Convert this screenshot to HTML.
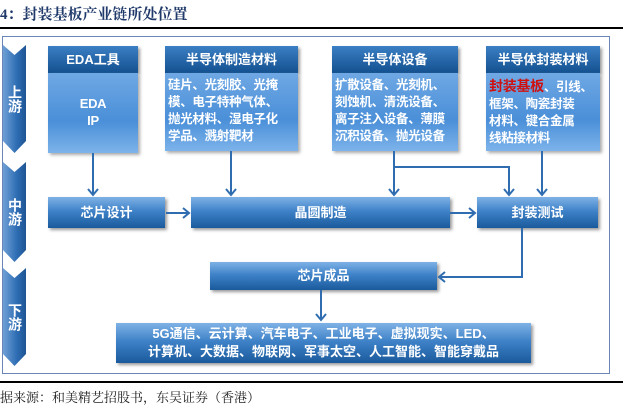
<!DOCTYPE html>
<html><head><meta charset="utf-8"><style>
*{margin:0;padding:0;box-sizing:border-box}
body{width:623px;height:403px;background:#fff;position:relative;overflow:hidden;font-family:"Liberation Sans","Noto Sans CJK SC",sans-serif}
.a{position:absolute}
.hd{position:absolute;background:linear-gradient(#3b7fc4,#13508f);color:#fff;font-weight:bold;font-size:13px;text-align:center;line-height:27px;box-shadow:2px 2px 3px #999}
.bd{position:absolute;background:linear-gradient(#6fa8e4,#4a8fd8 60%,#7db3ea);color:#fff;font-weight:bold;font-size:12.5px;line-height:17px;padding:4px 3px;box-shadow:2px 2px 3px #aaa;white-space:nowrap;letter-spacing:-0.3px}
.mb{position:absolute;background:linear-gradient(#7fb2e6,#3f82c8 45%,#1a5a9c);color:#fff;font-weight:bold;font-size:13px;text-align:center;box-shadow:2px 2px 3px #999}
.chev{position:absolute;left:3px;width:23px;background:linear-gradient(90deg,#6fa0d6,#2e6db4 60%,#1f5593);clip-path:polygon(0 0,50% 10px,100% 0,100% calc(100% - 12px),50% 100%,0 calc(100% - 12px));color:#fff;font-weight:bold;font-size:14px;line-height:15px;text-align:center;display:flex;align-items:center;justify-content:center;writing-mode:vertical-rl}
</style></head><body>
<div class="a" style="left:0;top:3px;font-family:'Liberation Serif','Noto Serif CJK SC',serif;font-weight:bold;font-size:15px;color:#1f3a6a">4：封装基板产业链所处位置</div>
<div class="a" style="left:0;top:27px;width:623px;height:2px;background:#000"></div>
<div class="a" style="left:2px;top:36px;width:608px;height:338px;border:1px solid #6a86b8"></div>
<div class="a" style="left:0;top:381px;width:623px;height:2px;background:#000"></div>
<div class="a" style="left:0;top:387px;font-family:'Liberation Serif','Noto Serif CJK SC',serif;font-size:13px;color:#222">据来源：和美精艺招股书，东吴证券（香港）</div>

<div class="chev" style="top:45px;height:108px">上游</div>
<div class="chev" style="top:162px;height:100px">中游</div>
<div class="chev" style="top:268px;height:98px">下游</div>

<div class="hd" style="left:48px;top:46px;width:90px;height:27px">EDA工具</div>
<div class="bd" style="left:48px;top:73px;width:90px;height:80px;text-align:center;padding-top:22px;font-size:13px">EDA<br>IP</div>

<div class="hd" style="left:165px;top:46px;width:133px;height:27px">半导体制造材料</div>
<div class="bd" style="left:165px;top:73px;width:133px;height:78px">硅片、光刻胶、光掩<br>模、电子特种气体、<br>抛光材料、湿电子化<br>学品、溅射靶材</div>

<div class="hd" style="left:332px;top:46px;width:126px;height:27px">半导体设备</div>
<div class="bd" style="left:332px;top:73px;width:126px;height:78px">扩散设备、光刻机、<br>刻蚀机、清洗设备、<br>离子注入设备、薄膜<br>沉积设备、抛光设备</div>

<div class="hd" style="left:486px;top:46px;width:114px;height:27px">半导体封装材料</div>
<div class="bd" style="left:486px;top:73px;width:114px;height:78px;padding-top:5px"><span style="color:#d01010;font-size:14px">封装基板</span>、引线、<br>框架、陶瓷封装<br>材料、键合金属<br>线粘接材料</div>

<div class="mb" style="left:48px;top:197px;width:117px;height:31px;line-height:31px">芯片设计</div>
<div class="mb" style="left:191px;top:197px;width:259px;height:31px;line-height:31px">晶圆制造</div>
<div class="mb" style="left:477px;top:197px;width:121px;height:31px;line-height:31px">封装测试</div>
<div class="mb" style="left:210px;top:262px;width:227px;height:28px;line-height:28px">芯片成品</div>
<div class="mb" style="left:116px;top:323px;width:415px;height:40px;line-height:18px;padding-top:2px">5G通信、云计算、汽车电子、工业电子、虚拟现实、LED、<br>计算机、大数据、物联网、军事太空、人工智能、智能穿戴品</div>

<svg class="a" style="left:0;top:0" width="623" height="403">
<g stroke="#2f6db0" stroke-width="2" fill="none">
<path d="M93 153V195M231 151V195M394 151V195M394 167H509V195M542 151V195M166 213H189M450 213H475M522 228V277H439M321 290V320"/>
<path d="M88 189L93 195L98 189M226 189L231 195L236 189M389 189L394 195L399 189M504 189L509 195L514 189M537 189L542 195L547 189M183 208L189 213L183 218M469 208L475 213L469 218M445 272L439 277L445 282M316 314L321 320L326 314"/>
</g></svg>
</body></html>
